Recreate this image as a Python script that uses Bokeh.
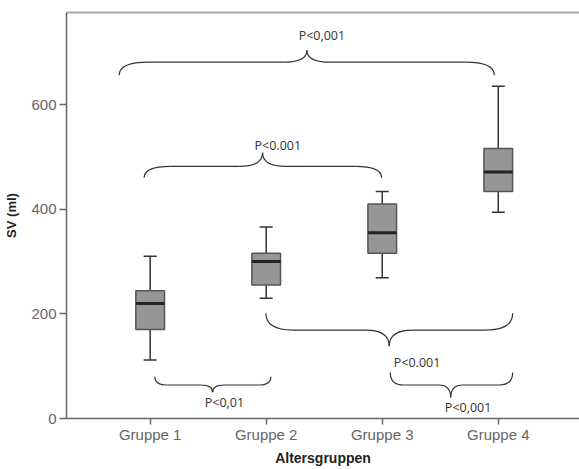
from bokeh.plotting import figure
from bokeh.models import Range1d, FixedTicker, LinearAxis
from bokeh.embed import file_html
from bokeh.resources import INLINE
from bokeh.core.properties import value

# ---- data ----
categories = ["Gruppe 1", "Gruppe 2", "Gruppe 3", "Gruppe 4"]
whisker_low = [112, 230, 269, 394]
q1 = [170, 255, 316, 434]
median = [220, 300, 355, 471]
q3 = [244, 316, 410, 516]
whisker_high = [310, 366, 434, 635]

y_ticks = [0, 200, 400, 600]

# significance braces: (x_start, x_end, x_tip, y_end, y_line, y_tip)
brace_x0 = [0.733, 0.948, 1.997, 1.041, 3.069]
brace_x1 = [3.966, 2.995, 4.124, 2.040, 4.124]
brace_xt = [2.351, 1.969, 3.060, 1.538, 3.590]
brace_yend = [656, 460, 201, 80, 88]
brace_yline = [681, 482, 169, 64, 64]
brace_ytip = [704, 508, 138, 50, 40]
p_labels = ["P<0,001", "P<0.001", "P<0.001", "P<0,01", "P<0,001"]
p_label_x = [2.48, 2.10, 3.30, 1.64, 3.74]
p_label_y = [732, 522, 107, 31, 21]

xs = list(range(1, len(categories) + 1))

p = figure(width=579, height=469, output_backend="svg", toolbar_location=None,
           x_range=Range1d(0.279, 4.70), y_range=Range1d(0, 776),
           min_border_left=66, min_border_top=12, min_border_right=0,
           min_border_bottom=51)
p.background_fill_color = "white"
p.border_fill_color = "white"
p.outline_line_color = None
p.grid.visible = False

axis_col = "#666666"
tick_font = "Liberation Sans"

# x axis
p.xaxis.ticker = FixedTicker(ticks=xs)
p.xaxis.major_label_overrides = {x: c for x, c in zip(xs, categories)}
p.xaxis.axis_label = "Altersgruppen"
p.yaxis.axis_label = "SV (ml)"
p.yaxis.ticker = FixedTicker(ticks=y_ticks)
for ax in (p.xaxis, p.yaxis):
    ax.axis_line_color = axis_col
    ax.axis_line_width = 1.5
    ax.major_tick_line_color = axis_col
    ax.major_tick_line_width = 1.5
    ax.major_tick_in = 0
    ax.minor_tick_line_color = None
    ax.major_label_text_font = tick_font
    ax.major_label_text_font_size = "15px"
    ax.major_label_text_color = "#666666"
    ax.axis_label_text_font = tick_font
    ax.axis_label_text_font_style = "bold"
    ax.axis_label_text_color = "#222222"
p.xaxis.major_tick_out = 6
p.yaxis.major_tick_out = 7
p.xaxis.major_label_standoff = 1
p.yaxis.major_label_standoff = 3
p.xaxis.axis_label_standoff = 4
p.yaxis.axis_label_standoff = 9
p.xaxis.axis_label_text_font_size = "14px"
p.yaxis.axis_label_text_font_size = "13px"

# top frame line
top = LinearAxis(axis_line_color="#aaaaaa", axis_line_width=2,
                 major_tick_line_color=None, minor_tick_line_color=None,
                 major_label_text_font_size="0px", ticker=FixedTicker(ticks=[]))
p.add_layout(top, "above")

# boxes
box_w = 0.247
cap_w = 0.112
edge = "#555555"
p.segment(xs, whisker_low, xs, q1, line_color="#333333", line_width=1.5)
p.segment(xs, q3, xs, whisker_high, line_color="#333333", line_width=1.5)
p.segment([x - cap_w / 2 for x in xs], whisker_low, [x + cap_w / 2 for x in xs], whisker_low,
          line_color="#333333", line_width=1.5)
p.segment([x - cap_w / 2 for x in xs], whisker_high, [x + cap_w / 2 for x in xs], whisker_high,
          line_color="#333333", line_width=1.5)
p.vbar(x=xs, width=box_w, bottom=q1, top=q3, fill_color="#969698",
       line_color=edge, line_width=1.5)
p.segment([x - box_w / 2 for x in xs], median, [x + box_w / 2 for x in xs], median,
          line_color="#222222", line_width=3)

# braces
bc = "#333333"
for x0, x1, xt, ye, yl, yt in zip(brace_x0, brace_x1, brace_xt, brace_yend, brace_yline, brace_ytip):
    w = x1 - x0
    de = min(0.25, 0.11 * w)
    dt = min(0.2, 0.1 * w)
    # end curves
    p.quadratic(x0=[x0, x1], y0=[ye, ye], x1=[x0 + de, x1 - de], y1=[yl, yl],
                cx=[x0, x1], cy=[yl, yl], line_color=bc, line_width=1.2)
    # straight parts
    p.segment([x0 + de, xt + dt], [yl, yl], [xt - dt, x1 - de], [yl, yl],
              line_color=bc, line_width=1.2)
    # tip curves
    p.quadratic(x0=[xt - dt, xt + dt], y0=[yl, yl], x1=[xt, xt], y1=[yt, yt],
                cx=[xt, xt], cy=[yl, yl], line_color=bc, line_width=1.2)

p.text(x=p_label_x, y=p_label_y, text=p_labels, text_font=value("Open Sans"),
       text_font_size="12.5px", text_color="#333333", text_align="center",
       text_baseline="middle")

open("out.html", "w").write(file_html(p, INLINE))
